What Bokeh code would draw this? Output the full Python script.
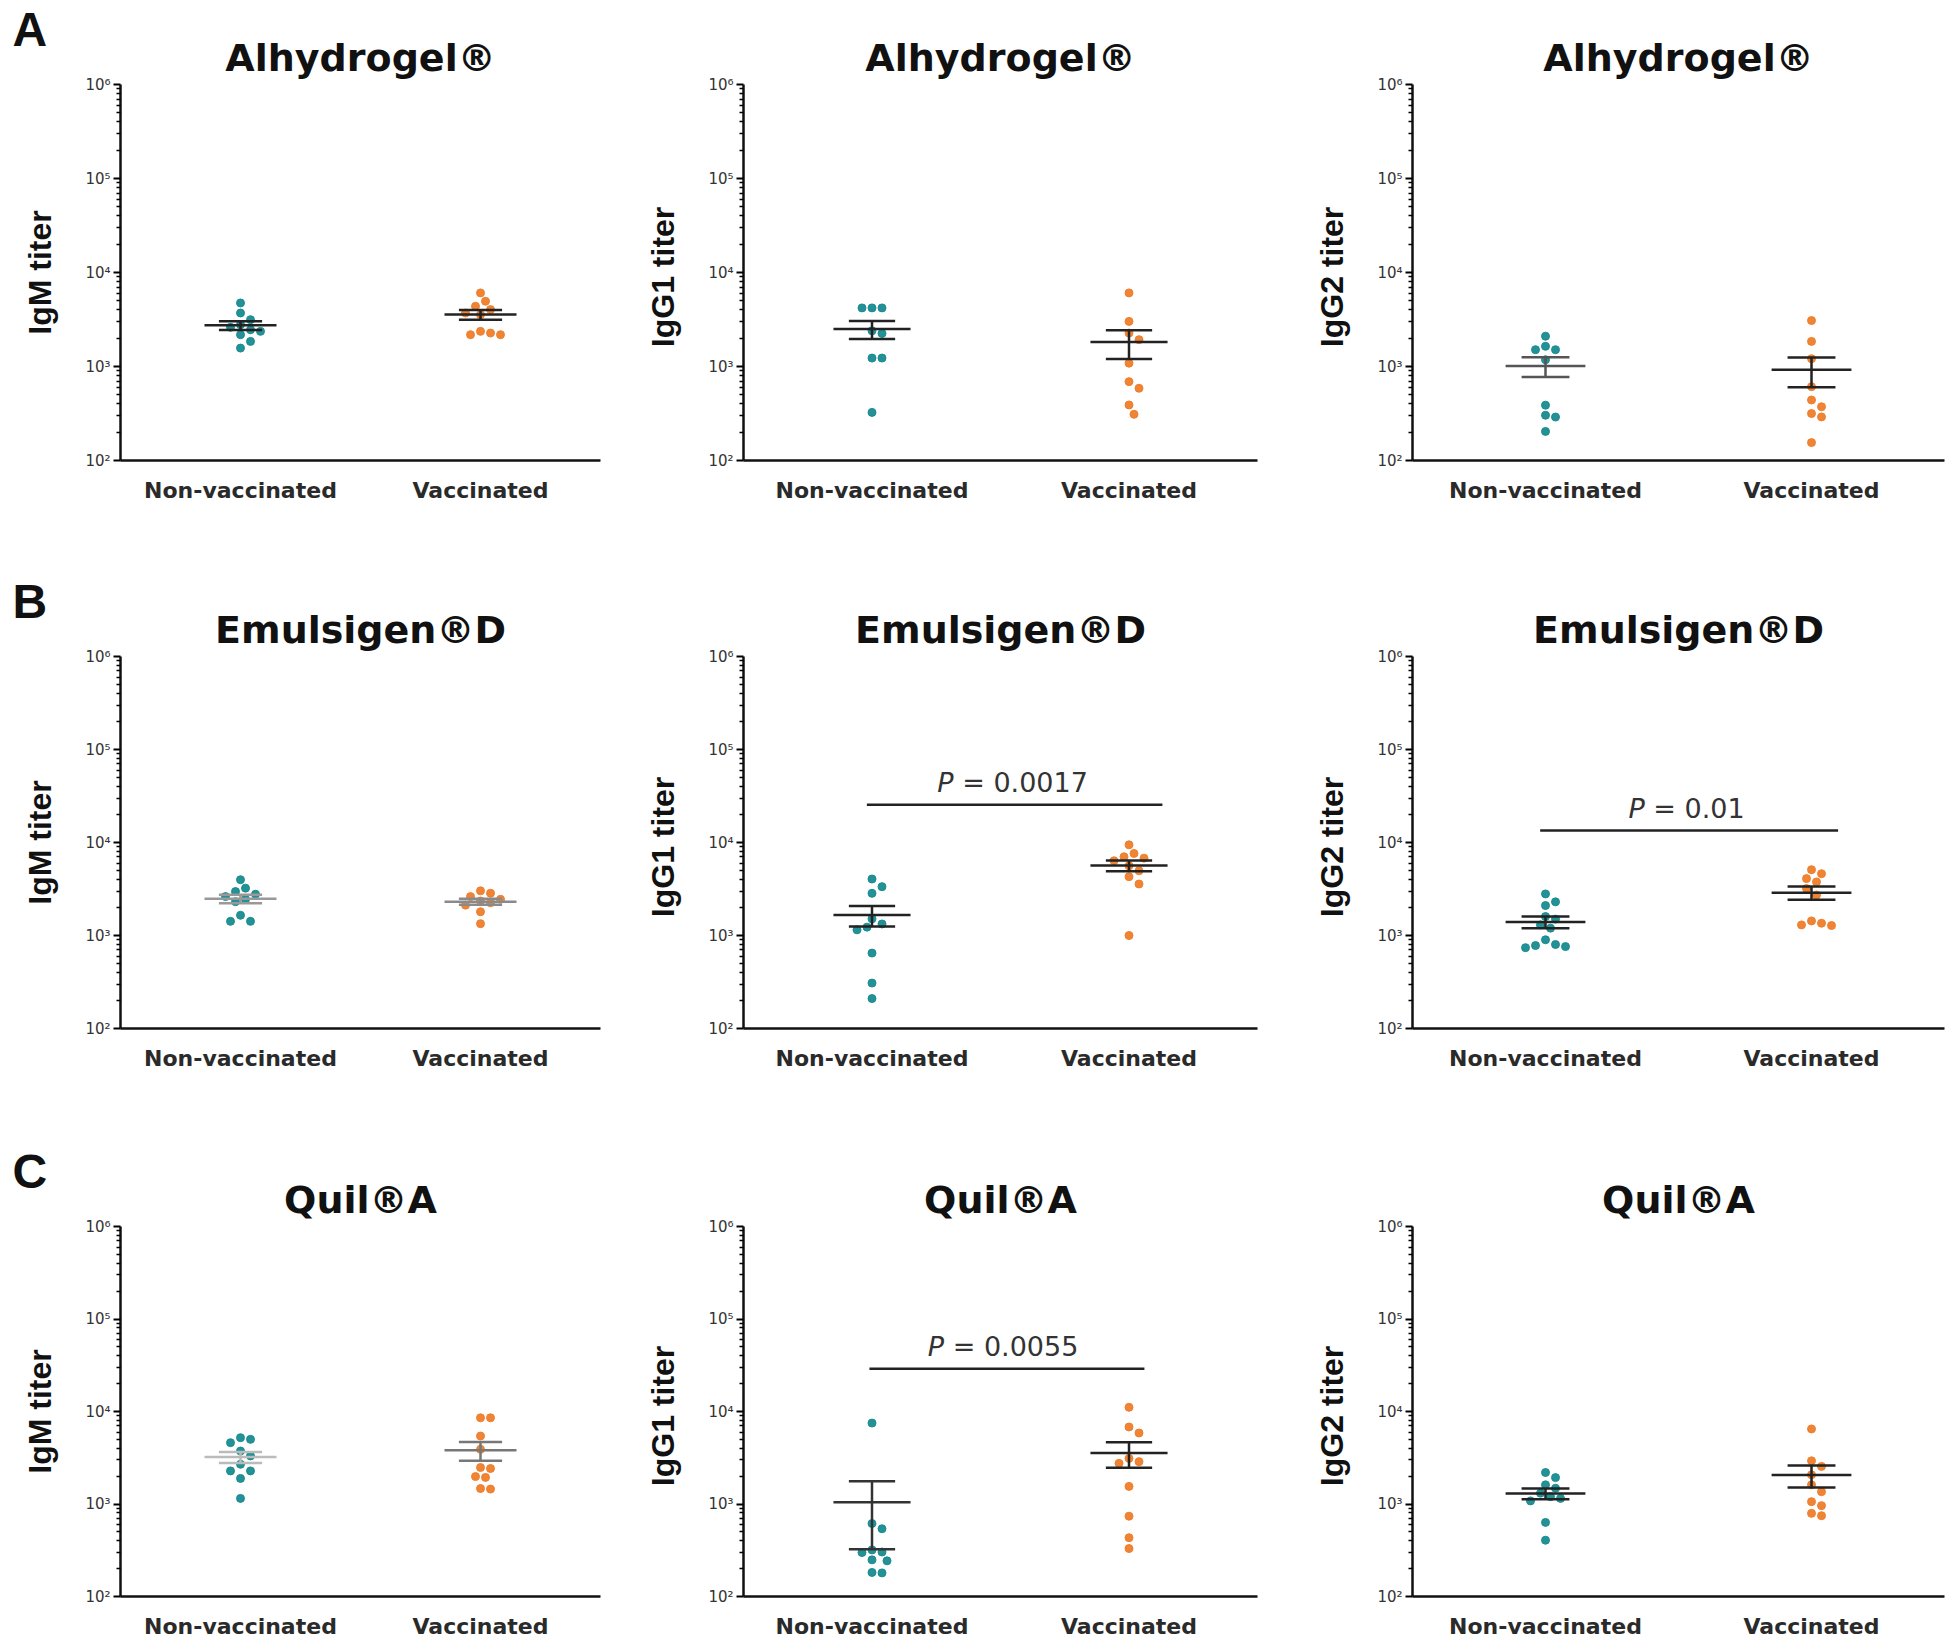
import numpy as np
from bokeh.plotting import figure
from bokeh.layouts import gridplot
from bokeh.models import FixedTicker, Range1d, Title
from bokeh.embed import file_html
from bokeh.resources import INLINE
from bokeh.core.properties import value

# ---------------- data ----------------
groups = ["Non-vaccinated", "Vaccinated"]
adjuvants = ["Alhydrogel®", "Emulsigen®D", "Quil®A"]
isotype_labels = ["IgM titer", "IgG1  titer", "IgG2  titer"]
panel_letters = ["A", "B", "C"]
ytick_values = [1e2, 1e3, 1e4, 1e5, 1e6]
ytick_labels = ["10²", "10³", "10⁴", "10⁵", "10⁶"]

# Alhydrogel
alhy_igm_nv = [4745, 3710, 3150, 2785, 2610, 2460, 2365, 2180, 1850, 1570]
alhy_igm_v = [6070, 4940, 4370, 4030, 3710, 3560, 2365, 2270, 2180, 2180]
alhy_igg1_nv = [4200, 4200, 4200, 2400, 2250, 1230, 1230, 325]
alhy_igg1_v = [6070, 3020, 2270, 1930, 1085, 690, 587, 390, 310]
alhy_igg2_nv = [2100, 1640, 1510, 1510, 1180, 388, 303, 290, 204]
alhy_igg2_v = [3080, 1850, 1210, 610, 440, 373, 316, 291, 155]
# Emulsigen D
emul_igm_nv = [3980, 3230, 2970, 2780, 2620, 2450, 2310, 1650, 1420, 1420]
emul_igm_v = [3020, 2850, 2620, 2450, 2350, 2250, 2120, 1800, 1340]
emul_igg1_nv = [4050, 3350, 2840, 1510, 1330, 1230, 1150, 647, 308, 210]
emul_igg1_v = [9440, 7620, 7020, 6790, 6360, 5620, 4970, 4290, 3580, 1000]
emul_igg2_nv = [2800, 2300, 2100, 1600, 1500, 1300, 1200, 900, 800, 780, 760, 740]
emul_igg2_v = [5100, 4620, 4090, 3770, 3200, 2720, 1435, 1355, 1300, 1280]
# Quil A
quil_igm_nv = [5210, 5000, 4600, 3740, 3310, 2690, 2280, 2280, 1890, 1150]
quil_igm_v = [8550, 8550, 5430, 3900, 2480, 2420, 1980, 1940, 1470, 1450]
quil_igg1_nv = [7500, 615, 540, 319, 303, 299, 249, 243, 182, 180]
quil_igg1_v = [11100, 6800, 5860, 3110, 2870, 2750, 1550, 738, 432, 330]
quil_igg2_nv = [2190, 1930, 1610, 1480, 1310, 1200, 1150, 1080, 632, 406]
quil_igg2_v = [6480, 2930, 2550, 2070, 1610, 1360, 1060, 960, 792, 747]

panels = [
    [(alhy_igm_nv, alhy_igm_v), (alhy_igg1_nv, alhy_igg1_v), (alhy_igg2_nv, alhy_igg2_v)],
    [(emul_igm_nv, emul_igm_v), (emul_igg1_nv, emul_igg1_v), (emul_igg2_nv, emul_igg2_v)],
    [(quil_igm_nv, quil_igm_v), (quil_igg1_nv, quil_igg1_v), (quil_igg2_nv, quil_igg2_v)],
]

# significance annotations (row, col)
sig_p = {(1, 1): "0.0017", (1, 2): "0.01", (2, 1): "0.0055"}
sig_level = {(1, 1): 25500, (1, 2): 13500, (2, 1): 29000}
sig_span = {(1, 1): (0.48, 1.63), (1, 2): (0.48, 1.60), (2, 1): (0.49, 1.56)}
sig_text_x = {(1, 1): 1.047, (1, 2): 1.03, (2, 1): 1.01}

# ---------------- styles ----------------
TEAL = "#178b8f"
ORANGE = "#ee7d2a"
FONT = "DejaVu Sans"
LFONT = "Liberation Sans"
col_widths = [640, 650, 666]
col_left = [120, 103, 122]
col_frame = [480, 514, 532]
row_heights = [570, 570, 505]
row_top = [84, 86, 86]
row_frame = [376, 372, 370]
line_colors = [
    [("#222222", "#222222"), ("#222222", "#222222"), ("#555555", "#222222")],
    [("#999999", "#8a8a8a"), ("#222222", "#222222"), ("#222222", "#222222")],
    [("#bbbbbb", "#777777"), ("#333333", "#222222"), ("#222222", "#222222")],
]


def swarm_offsets(vals, px_per_dec, dot=10.0):
    ys = np.log10(np.asarray(vals, dtype=float)) * px_per_dec
    order = np.argsort(-ys, kind="stable")
    placed = []
    offs = np.zeros(len(vals))
    cands = [0]
    for k in range(1, 10):
        cands += [k, -k]
    for i in order:
        for c in cands:
            x = c * dot * 0.5
            if all((x - px) ** 2 + (ys[i] - py) ** 2 >= (dot * 0.95) ** 2 for px, py in placed):
                placed.append((x, ys[i]))
                offs[i] = x
                break
    return offs


def text_width(s, size):
    w = {" ": 0.318, "\u00a0": 0.318, "=": 0.838, ".": 0.318, "P": 0.603}
    return sum(w.get(ch, 0.636) for ch in s) * size


def style_main_title(t, text):
    t.text = text
    t.align = "center"
    t.text_font = FONT
    t.text_font_size = "38px"
    t.text_font_style = "bold"
    t.text_color = "#111111"
    t.standoff = 10


def build(ri, ci):
    W, H = col_widths[ci], row_heights[ri]
    fw, fh = col_frame[ci], row_frame[ri]
    px_per_unit = fw / 2.0
    px_per_dec = fh / 4.0
    p = figure(width=W, height=H, y_axis_type="log",
               x_range=Range1d(0, 2), y_range=Range1d(1e2, 1e6),
               output_backend="svg", toolbar_location=None,
               min_border_left=col_left[ci], min_border_right=W - col_left[ci] - fw,
               min_border_top=row_top[ri], min_border_bottom=H - row_top[ri] - fh)
    p.outline_line_color = None
    p.grid.visible = False
    p.background_fill_color = "white"

    if ci == 0:
        # outermost title holds the panel letter; adjuvant title sits next to the frame
        main = Title()
        style_main_title(main, adjuvants[ri])
        p.add_layout(main, "above")
        p.title.text = panel_letters[ri]
        p.title.align = "left"
        p.title.offset = -col_left[ci] + 12
        p.title.text_font = LFONT
        p.title.text_font_size = "48px"
        p.title.text_font_style = "bold"
        p.title.text_color = "#111111"
        p.title.standoff = -54
    else:
        style_main_title(p.title, adjuvants[ri])

    ya = p.yaxis[0]
    ya.ticker = FixedTicker(ticks=ytick_values,
                            minor_ticks=[k * 10 ** e for e in range(2, 6) for k in range(2, 10)])
    ya.major_label_overrides = {int(v): t for v, t in zip(ytick_values, ytick_labels)}
    ya.axis_label = isotype_labels[ci]
    ya.axis_label_text_font = LFONT
    ya.axis_label_text_font_size = "32px"
    ya.axis_label_text_font_style = "bold"
    ya.axis_label_text_color = "#111111"
    ya.axis_label_standoff = 24
    ya.major_label_text_font = FONT
    ya.major_label_text_font_size = "15px"
    ya.major_label_text_color = "#333333"
    ya.major_label_standoff = 3
    ya.axis_line_width = 2.5
    ya.axis_line_color = "#111111"
    ya.major_tick_in = 0
    ya.major_tick_out = 7
    ya.major_tick_line_width = 2
    ya.minor_tick_in = 0
    ya.minor_tick_out = 4
    ya.minor_tick_line_width = 1.5

    xa = p.xaxis[0]
    xa.ticker = FixedTicker(ticks=[0.5, 1.5])
    xa.major_label_overrides = {0.5: groups[0], 1.5: groups[1]}
    xa.major_label_text_font = FONT
    xa.major_label_text_font_size = "22px"
    xa.major_label_text_font_style = "bold"
    xa.major_label_text_color = "#2a2a2a"
    xa.major_label_standoff = 11
    xa.axis_line_width = 2.5
    xa.axis_line_color = "#111111"
    xa.major_tick_line_color = None
    xa.minor_tick_line_color = None

    for gi, (vals, color) in enumerate(zip(panels[ri][ci], [TEAL, ORANGE])):
        vals = np.asarray(vals, dtype=float)
        cx = 0.5 + gi
        xs = cx + swarm_offsets(vals, px_per_dec) / px_per_unit
        p.scatter(xs, vals, size=8, color=color, line_color=color, alpha=0.95)
        mean = vals.mean()
        sem = vals.std(ddof=1) / np.sqrt(len(vals))
        lc = line_colors[ri][ci][gi]
        p.segment(x0=[cx - 0.15], y0=[mean], x1=[cx + 0.15], y1=[mean],
                  line_color=lc, line_width=2.5)
        p.segment(x0=[cx - 0.09, cx - 0.09, cx], y0=[mean + sem, mean - sem, mean - sem],
                  x1=[cx + 0.09, cx + 0.09, cx], y1=[mean + sem, mean - sem, mean + sem],
                  line_color=lc, line_width=2.5)

    key = (ri, ci)
    if key in sig_p:
        x0, x1 = sig_span[key]
        yb = sig_level[key]
        p.segment(x0=[x0], y0=[yb], x1=[x1], y1=[yb], line_color="#222222", line_width=2.5)
        rest = "\u00a0=\u00a0" + sig_p[key]
        pw, rw = text_width("P", 27), text_width(rest, 27)
        bx = (pw - rw) / 2.0
        tx = sig_text_x[key]
        p.text(x=[tx], y=[yb], text=["P"], x_offset=bx, y_offset=-22,
               text_font=value(FONT), text_font_size="27px", text_font_style="italic",
               text_color="#333333", text_align="right", text_baseline="alphabetic")
        p.text(x=[tx], y=[yb], text=[rest], x_offset=bx, y_offset=-22,
               text_font=value(FONT), text_font_size="27px",
               text_color="#333333", text_align="left", text_baseline="alphabetic")
    return p


grid = gridplot([[build(r, c) for c in range(3)] for r in range(3)],
                toolbar_location=None)

open("out.html", "w").write(file_html(grid, INLINE))
